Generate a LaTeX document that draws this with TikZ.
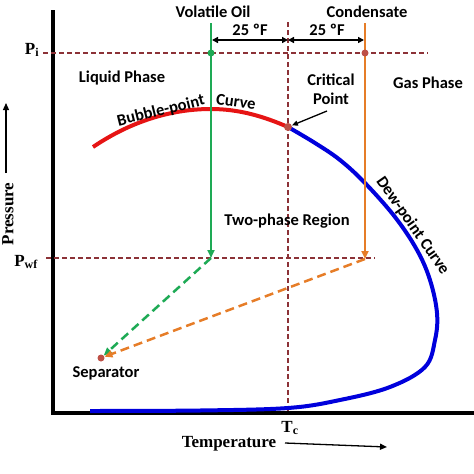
\documentclass[tikz,border=0pt]{standalone}
\usepackage{fontspec}
\setmainfont{Liberation Serif}
\newfontfamily\lab{Carlito}
\usetikzlibrary{arrows.meta}
\definecolor{dred}{RGB}{140,50,55}
\definecolor{cgreen}{RGB}{30,170,85}
\definecolor{corange}{RGB}{230,125,40}
\definecolor{cred}{RGB}{230,20,20}
\definecolor{cblue}{RGB}{0,0,220}
\definecolor{cdot}{RGB}{190,80,70}
\tikzset{
  lbl/.style={font=\lab\bfseries\fontsize{16.5}{19}\selectfont, inner sep=0pt, align=center},
  ser/.style={font=\bfseries\fontsize{17}{19}\selectfont, inner sep=0pt},
  guide/.style={dred, dash pattern=on 5pt off 3pt, line width=1.1pt},
  axis/.style={line width=3.5pt, black},
  dotc/.style={circle, fill=#1, inner sep=0pt, minimum size=7pt},
  tip/.style={-{Triangle[length=8pt,width=7pt]}},
  flow/.style={line width=2.5pt, dash pattern=on 9pt off 5pt, tip},
}
\begin{document}
\begin{tikzpicture}[x=1pt,y=-1pt]
\useasboundingbox (0,0) rectangle (474,474);
% axes
\coordinate (atop) at (53,10);
\coordinate (aorig) at (53,413);
\coordinate (aright) at (474,413);
\draw[axis] (atop) -- (aorig) -- (aright);
% guide lines
\coordinate (pil) at (43,53); \coordinate (pir) at (428,53);
\draw[guide] (pil) -- (pir);
\coordinate (pwl) at (46,258); \coordinate (pwr) at (375,258);
\draw[guide] (pwl) -- (pwr);
\coordinate (tct) at (288,22); \coordinate (tcb) at (288,413);
\draw[guide] (tct) -- (tcb);
% labels P
\node[ser] (pi) at (32,50) {P\textsubscript{i}};
\node[ser] (pwf) at (26,262) {P\textsubscript{wf}};
% bubble curve
\draw[cred, line width=4pt] (93,147) .. controls (130,122) and (170,109) .. (211,109) .. controls (240,109) and (265,117) .. (288,127);
% dew curve
\draw[cblue, line width=4pt] plot[smooth, tension=0.6] coordinates {(288,127) (315,143) (340,160) (365,183) (395,217) (417,250) (430,280) (437,313) (435,340) (425,367) (390,387) (340,400) (288,408) (200,410.5) (90,411)};
% vertical lines
\coordinate (gt) at (211,23); \coordinate (gb) at (211,258);
\draw[cgreen, line width=2.5pt, tip] (gt) -- (gb);
\coordinate (ot) at (365,23); \coordinate (ob) at (365,259);
\draw[corange, line width=2.5pt, tip] (ot) -- (ob);
% dots
\node[dotc=cgreen] (gdot) at (211,53) {};
\node[dotc=cdot] (odot) at (365,53) {};
\node[dotc=cdot, minimum size=8pt] (cp) at (288,127) {};
\node[dotc=cdot] (sep) at (101,358) {};
% dashed to separator
\draw[cgreen, flow] (gb) -- (sep);
\draw[corange, flow] (ob) -- (sep);
% 25 F arrows
\coordinate (a1) at (212,40); \coordinate (a2) at (288,40); \coordinate (a3) at (364,40);
\draw[line width=1.5pt, {Triangle[length=6pt,width=6pt]}-{Triangle[length=6pt,width=6pt]}] (a1) -- (a2);
\draw[line width=1.5pt, {Triangle[length=6pt,width=6pt]}-{Triangle[length=6pt,width=6pt]}] (a2) -- (a3);
\node[lbl] (f1) at (250,30) {25 ºF};
\node[lbl] (f2) at (327,30) {25 ºF};
% text labels
\node[lbl] (vo) at (213,12) {Volatile Oil};
\node[lbl] (co) at (367,12) {Condensate};
\node[lbl] (lp) at (122,78) {Liquid Phase};
\node[lbl] (gp) at (428,83) {Gas Phase};
\node[lbl] (cpl) at (331,89) {Critical\\Point};
\draw[line width=1.3pt, -{Triangle[length=6pt,width=5pt]}] (327,111) -- (cp);
\node[lbl, rotate=14] (bp) at (161,111) {Bubble-point};
\node[lbl, rotate=-8] (cv) at (236,102) {Curve};
\node[lbl, rotate=-55, anchor=south, inner sep=2pt] (dp) at (405,231) {Dew-point Curve};
\node[lbl] (tp) at (287,221) {Two-phase Region};
\node[lbl] (sp) at (106,373) {Separator};
% axis titles
\node[ser] (tc) at (290,428) {T\textsubscript{c}};
\node[ser] (temp) at (229,444) {Temperature};
\coordinate (ta1) at (285,443); \coordinate (ta2) at (387,447);
\draw[line width=1.3pt, -{Triangle[length=7pt,width=6pt]}] (ta1) -- (ta2);
\node[ser, rotate=90] (pr) at (8,214) {Pressure};
\coordinate (pa1) at (6,173); \coordinate (pa2) at (6,103);
\draw[line width=1.3pt, -{Triangle[length=7pt,width=6pt]}] (pa1) -- (pa2);
\end{tikzpicture}
\end{document}
